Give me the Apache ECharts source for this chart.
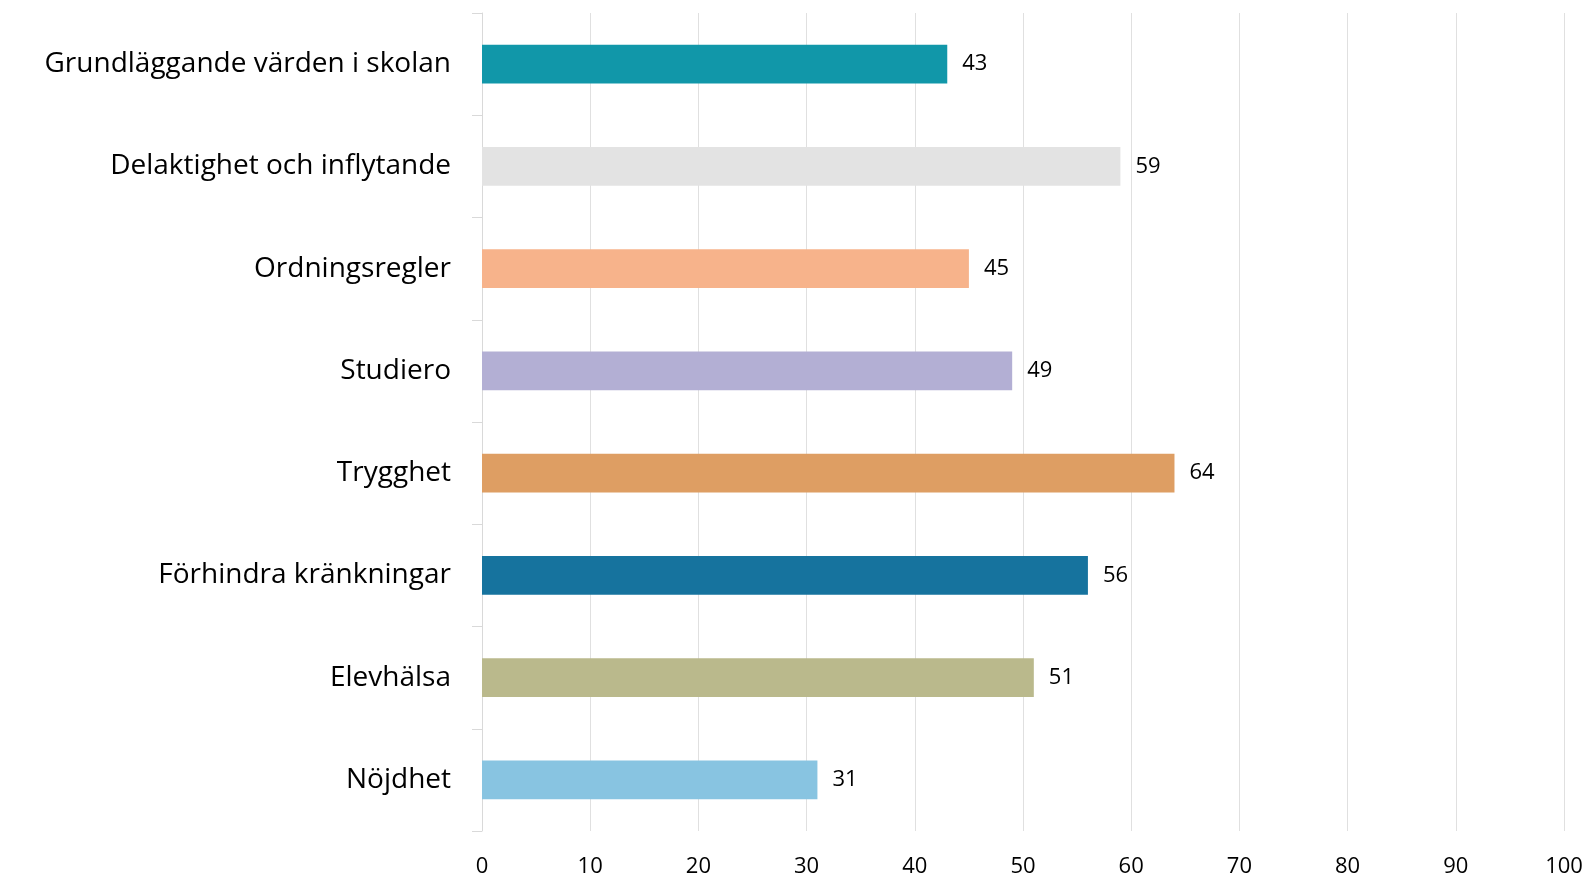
<!DOCTYPE html>
<html>
<head>
<meta charset="utf-8">
<script src="https://cdn.jsdelivr.net/npm/echarts@6/dist/echarts.min.js"></script>
<style>
    html, body { margin: 0; padding: 0; background: #fff; }
    #chart { width: 1587px; height: 877px; }
</style>
</head>
<body>
<div id="chart"></div>
<script>
// kategorier, uppifrån och ned
const categories = [
    'Grundläggande värden i skolan',
    'Delaktighet och inflytande',
    'Ordningsregler',
    'Studiero',
    'Trygghet',
    'Förhindra kränkningar',
    'Elevhälsa',
    'Nöjdhet'
];
const values = [43, 59, 45, 49, 64, 56, 51, 31];
const barColors = ['#1197A9', '#E3E3E3', '#F7B38B', '#B3AFD4', '#DE9E63', '#16739E', '#BAB98C', '#88C4E1'];
const xTicks = [0, 10, 20, 30, 40, 50, 60, 70, 80, 90, 100];

const font = '"Open Sans", sans-serif';
let myChart = echarts.init(document.getElementById('chart'));
myChart.setOption({
    animation: false,
    // outerBoundsMode none: rutnätet ska inte krympa för etiketterna
    grid: { left: 482, right: 23, top: 13, bottom: 46, outerBoundsMode: 'none', containLabel: false },
    xAxis: {
        type: 'value',
        min: xTicks[0],
        max: xTicks[xTicks.length - 1],
        interval: 10,
        axisLine: { show: false },
        axisTick: { show: false },
        splitLine: { lineStyle: { color: '#E0E0E0', width: 1 } },
        axisLabel: { color: '#000', fontFamily: font, fontSize: 22, margin: 25 }
    },
    yAxis: {
        type: 'category',
        inverse: true,
        data: categories,
        axisLine: { lineStyle: { color: '#D9D9D9', width: 1 } },
        axisTick: { show: true, length: 10, lineStyle: { color: '#D9D9D9' } },
        axisLabel: { color: '#000', fontFamily: font, fontSize: 28, margin: 31 }
    },
    series: [{
        type: 'bar',
        barWidth: '38%',
        data: values.map((v, i) => ({ value: v, itemStyle: { color: barColors[i] } })),
        label: {
            show: true,
            position: 'right',
            distance: 15,
            color: '#000',
            fontFamily: font,
            fontSize: 22
        }
    }]
});
</script>
</body>
</html>
